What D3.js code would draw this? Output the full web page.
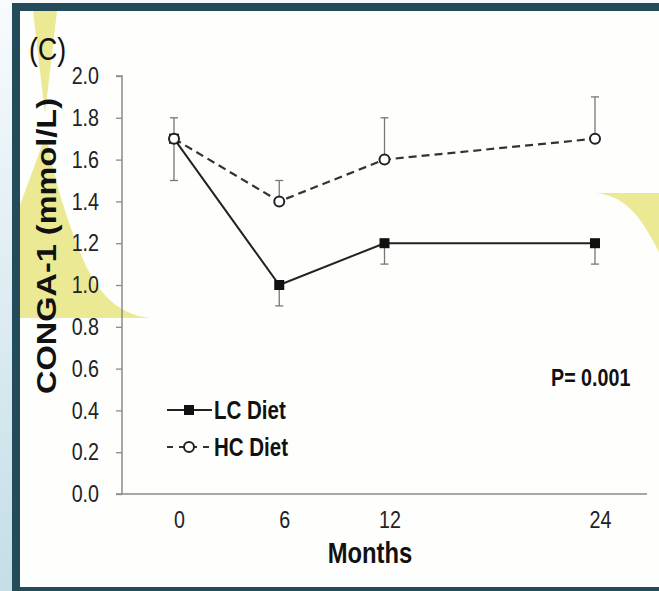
<!DOCTYPE html>
<html>
<head>
<meta charset="utf-8">
<script src="https://cdn.jsdelivr.net/npm/d3@7"></script>
<style>
  html, body { margin: 0; padding: 0; }
  body { width: 659px; height: 591px; overflow: hidden; }
  svg { display: block; }
  text { font-family: "Liberation Sans", Arial, Helvetica, sans-serif; }
</style>
</head>
<body>
<svg id="chart" width="659" height="591"></svg>
<script>
// CONGA-1 over time, LC vs HC diet (mean with one-sided error bars)
const months = [0, 6, 12, 24];
const monthLabels = ["0", "6", "12", "24"];
const lcValues = [1.7, 1.0, 1.2, 1.2];
const lcErrLow = [0.2, 0.1, 0.1, 0.1];
const hcValues = [1.7, 1.4, 1.6, 1.7];
const hcErrHigh = [0.1, 0.1, 0.2, 0.2];
const yTicks = [0, 0.2, 0.4, 0.6, 0.8, 1.0, 1.2, 1.4, 1.6, 1.8, 2.0];
const seriesNames = ["LC Diet", "HC Diet"];

const svg = d3.select("#chart");
const W = 659, H = 591;

// squeeze text horizontally to get a condensed face
function condense(sel, k = 0.82) {
  sel.each(function () {
    const len = this.getComputedTextLength();
    d3.select(this).attr("textLength", len * k).attr("lengthAdjust", "spacingAndGlyphs");
  });
}

// page backdrop and slide frame
const defs = svg.append("defs");
const grad = defs.append("linearGradient").attr("id", "bg")
  .attr("x1", 0).attr("y1", 0).attr("x2", 0).attr("y2", 1);
grad.append("stop").attr("offset", "0%").attr("stop-color", "#f7fbfd");
grad.append("stop").attr("offset", "100%").attr("stop-color", "#c4dee7");
svg.append("rect").attr("width", W).attr("height", H).attr("fill", "url(#bg)");
svg.append("rect").attr("x", 12).attr("y", 3).attr("width", W).attr("height", H)
  .attr("fill", "#244b5a");
svg.append("rect").attr("x", 20).attr("y", 11).attr("width", W).attr("height", 576)
  .attr("fill", "#fefefc");

// highlighter marks
const hl = "#ece995";
svg.append("path").attr("fill", hl)
  .attr("d", "M33,11 L57,11 L45,114 Z");
svg.append("path").attr("fill", hl)
  .attr("d", "M44,140 L20,205 L20,318 L150,318 C115,314 95,290 80,252 C65,215 55,180 47,140 Z");
svg.append("path").attr("fill", hl)
  .attr("d", "M596,193 L659,193 L659,252 C640,215 625,196 596,193 Z");

const x = d3.scaleLinear().domain([0, 24]).range([174, 595]);
const y = d3.scaleLinear().domain([0, 2]).range([494, 76]);

const axisColor = "#8a8a8a";

// y axis
const yAxis = svg.append("g").attr("transform", "translate(122,0)")
  .call(d3.axisLeft(y).tickValues(yTicks).tickFormat(d3.format(".1f")).tickSize(6).tickPadding(17));
yAxis.select(".domain").attr("stroke", axisColor).attr("stroke-width", 1.5)
  .attr("d", `M-6,${y(2)}H0V${y(0)}`);
yAxis.selectAll(".tick line").attr("stroke", axisColor).attr("stroke-width", 1.3);
yAxis.selectAll(".tick text").attr("font-size", 24).attr("fill", "#222")
  .attr("font-family", null).call(condense);

// x axis
const xAxis = svg.append("g").attr("transform", `translate(0,${y(0)})`)
  .call(d3.axisBottom(x).tickValues(months).tickFormat((d, i) => monthLabels[i]).tickSize(0).tickPadding(17));
xAxis.select(".domain").attr("stroke", axisColor).attr("stroke-width", 1.5)
  .attr("d", "M116,0H647");
xAxis.selectAll(".tick text").attr("font-size", 24).attr("fill", "#222")
  .attr("font-family", null).attr("dx", 5).call(condense);

// error bars
const errColor = "#777";
const cap = 4;
function errBars(vals, lo, hi) {
  const g = svg.append("g").attr("stroke", errColor).attr("stroke-width", 1.3);
  months.forEach((m, i) => {
    const y1 = y(vals[i] - lo[i]), y2 = y(vals[i] + hi[i]);
    g.append("line").attr("x1", x(m)).attr("x2", x(m)).attr("y1", y1).attr("y2", y2);
    if (lo[i] > 0) g.append("line").attr("x1", x(m) - cap).attr("x2", x(m) + cap).attr("y1", y1).attr("y2", y1);
    if (hi[i] > 0) g.append("line").attr("x1", x(m) - cap).attr("x2", x(m) + cap).attr("y1", y2).attr("y2", y2);
  });
}
errBars(lcValues, lcErrLow, lcValues.map(() => 0));
errBars(hcValues, hcValues.map(() => 0), hcErrHigh);

const line = d3.line().x((d, i) => x(months[i])).y(d => y(d));

// LC diet: solid line, filled squares
svg.append("path").datum(lcValues).attr("d", line)
  .attr("fill", "none").attr("stroke", "#222").attr("stroke-width", 2);
svg.selectAll(".lc").data(lcValues).enter().append("rect")
  .attr("x", (d, i) => x(months[i]) - 5).attr("y", d => y(d) - 5)
  .attr("width", 10).attr("height", 10).attr("fill", "#111");

// HC diet: dashed line, open circles
svg.append("path").datum(hcValues).attr("d", line)
  .attr("fill", "none").attr("stroke", "#333").attr("stroke-width", 2.2)
  .attr("stroke-dasharray", "8,5");
svg.selectAll(".hc").data(hcValues).enter().append("circle")
  .attr("cx", (d, i) => x(months[i])).attr("cy", d => y(d)).attr("r", 5)
  .attr("fill", "#fff").attr("stroke", "#222").attr("stroke-width", 2);

// legend
const lg = svg.append("g");
lg.append("line").attr("x1", 167).attr("x2", 212).attr("y1", 410).attr("y2", 410)
  .attr("stroke", "#222").attr("stroke-width", 2);
lg.append("rect").attr("x", 184).attr("y", 405).attr("width", 10).attr("height", 10).attr("fill", "#111");
lg.append("line").attr("x1", 167).attr("x2", 212).attr("y1", 447).attr("y2", 447)
  .attr("stroke", "#333").attr("stroke-width", 2.2).attr("stroke-dasharray", "6,6");
lg.append("circle").attr("cx", 189).attr("cy", 447).attr("r", 5)
  .attr("fill", "#fff").attr("stroke", "#222").attr("stroke-width", 2);
lg.selectAll("text").data(seriesNames).enter().append("text")
  .attr("x", 214).attr("y", (d, i) => [419, 456][i])
  .attr("font-size", 25).attr("font-weight", "bold").attr("fill", "#111").text(d => d)
  .call(condense);

// annotations and titles
svg.append("text").attr("x", 551).attr("y", 386)
  .attr("font-size", 24).attr("font-weight", "bold").attr("fill", "#111").text("P= 0.001")
  .call(condense);
svg.append("text").attr("x", 370).attr("y", 563)
  .attr("text-anchor", "middle").attr("font-size", 29).attr("font-weight", "bold")
  .attr("fill", "#111").text("Months").call(condense);
svg.append("text").attr("x", 29).attr("y", 60)
  .attr("font-size", 31).attr("fill", "#111").text("(C)").call(condense, 0.86);
svg.append("text").attr("x", 0).attr("y", 0)
  .attr("transform", "translate(56,246) rotate(-90)")
  .attr("text-anchor", "middle")
  .attr("font-size", 27).attr("font-weight", "bold").attr("fill", "#111")
  .attr("textLength", 296).attr("lengthAdjust", "spacingAndGlyphs")
  .text("CONGA-1 (mmol/L)");
</script>
</body>
</html>
